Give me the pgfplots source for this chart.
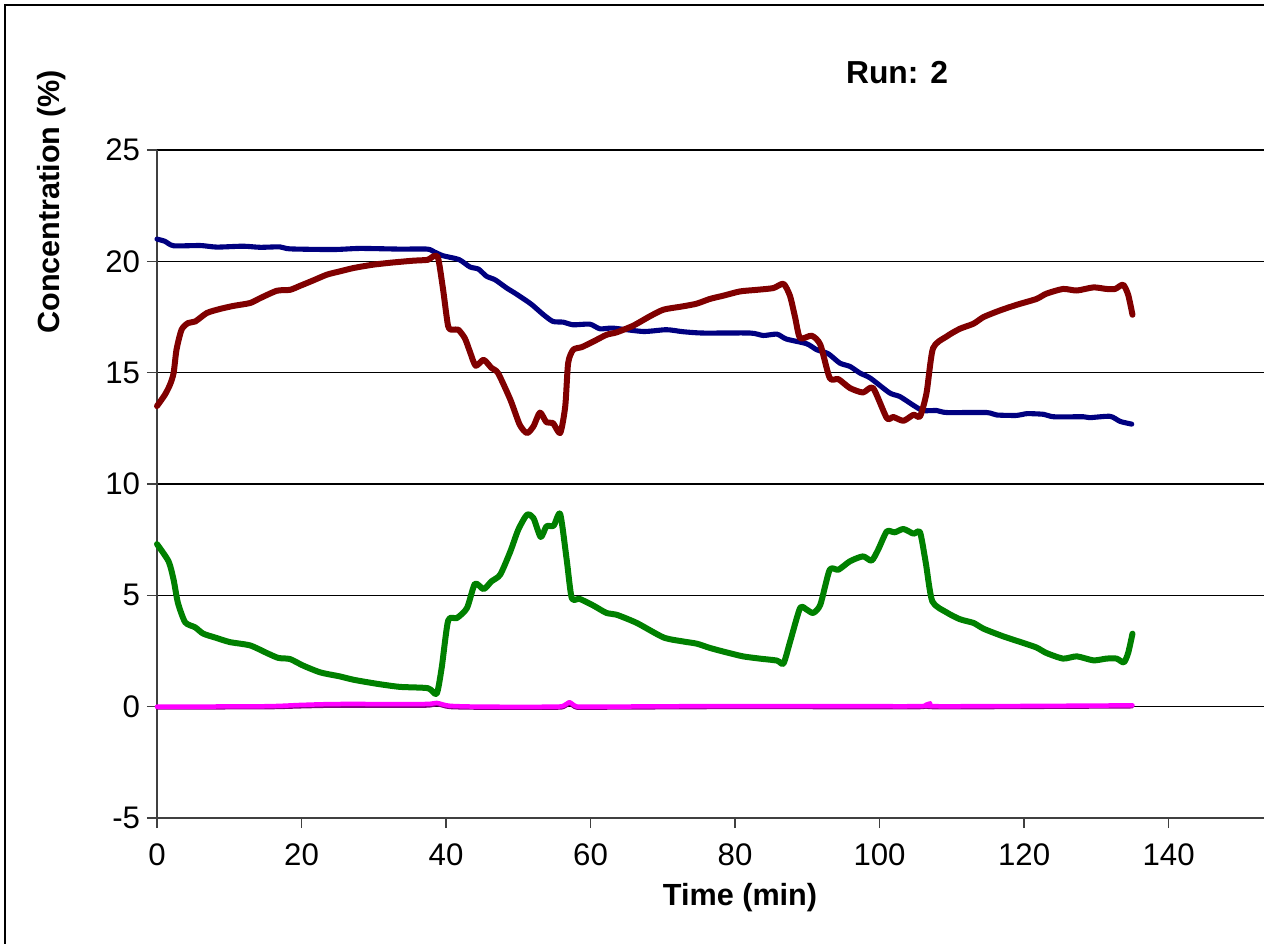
\documentclass[border=0pt]{standalone}
\usepackage{pgfplots}
\pgfplotsset{compat=1.18}
\usepackage{fontspec}
\setmainfont{Liberation Sans}
\definecolor{cRed}{HTML}{800000}
\definecolor{cBlue}{HTML}{000080}
\definecolor{cGreen}{HTML}{008000}
\definecolor{cMag}{HTML}{FF00FF}
\definecolor{cPurp}{HTML}{800080}
\definecolor{axgray}{HTML}{404040}

\begin{document}
\begin{tikzpicture}
\begin{axis}[
  at={(0,0)}, anchor=south west,
  scale only axis, width=369pt, height=222.67pt,
  xmin=0, xmax=153.2, ymin=-5, ymax=25,
  xtick={0,20,...,140}, ytick={-5,0,...,25},
  axis x line*=bottom, axis y line*=left,
  axis line style={draw=axgray, line width=0.7pt},
  ymajorgrids, major grid style={black, line width=0.4pt},
  tick align=outside, major tick length=3.33pt,
  tick style={draw=axgray, line width=0.5pt},
  ticklabel style={font=\fontsize{10.4}{12}\selectfont},
  yticklabel style={xshift=1.2pt},
  xticklabel style={yshift=-1.6pt},
  /pgf/number format/assume math mode=true,
  xlabel={Time (min)}, ylabel={Concentration (\%)},
  xlabel style={at={(axis description cs:0.5267,-0.1198)}, anchor=center, font=\bfseries\fontsize{10.2}{12}\selectfont},
  ylabel style={at={(axis description cs:-0.0949,0.9222)}, anchor=center, font=\bfseries\fontsize{10.2}{12}\selectfont},
  title={Run: 2},
  title style={at={(axis description cs:0.6685,1.0884)}, anchor=center, font=\bfseries\fontsize{10.6}{12}\selectfont},
  clip=false,
  every axis plot/.append style={smooth, tension=0.4, line join=round, line cap=round},
]
% purple (under magenta)
\addplot[cPurp, line width=1.2pt] coordinates {
(0,-0.05) (15,-0.04) (20,0.0) (25,0.03) (37,0.03) (38.7,0.1) (40.5,-0.03)
(45,-0.06) (55,-0.06) (56.3,-0.02) (57.1,0.12) (58,-0.05) (60,-0.06)
(80,-0.03) (100,-0.04) (106,-0.03) (107,0.08) (108,-0.04) (135,0.0)
};
% magenta
\addplot[cMag, line width=1.5pt] coordinates {
(0,0.0) (15,0.02) (20,0.08) (25,0.12) (37,0.12) (38.7,0.17) (40.5,0.04)
(45,0.0) (55,0.0) (56.3,0.05) (57.1,0.2) (58,0.02) (60,0.0)
(80,0.03) (100,0.02) (106,0.03) (107,0.15) (108,0.02) (135,0.06)
};
% green
\addplot[cGreen, line width=2pt] coordinates {
(0,7.3) (1.6,6.53) (2.3,5.7) (2.9,4.66) (3.9,3.79) (5.3,3.56) (6.4,3.28)
(8.3,3.08) (10.1,2.9) (12.9,2.75) (15.2,2.41) (16.8,2.19) (18.4,2.14)
(20.2,1.85) (22.6,1.54) (25.3,1.36) (27.2,1.21) (30.4,1.03) (33.6,0.89)
(37.5,0.83) (38.7,0.58) (39.4,1.75) (40.3,3.87) (41.5,3.98) (42.9,4.43)
(44.0,5.52) (45.2,5.28) (46.3,5.63) (47.5,5.93) (48.9,6.97) (50.0,7.95)
(51.2,8.62) (52.1,8.47) (53.1,7.62) (53.9,8.1) (54.9,8.13) (55.8,8.65)
(56.7,6.6) (57.4,4.88) (58.5,4.84) (60.4,4.54) (62.2,4.21) (63.6,4.13)
(66.4,3.76) (70.1,3.11) (72.8,2.93) (74.7,2.83) (76.5,2.64) (78.8,2.44)
(81.1,2.26) (83.4,2.16) (85.8,2.07) (86.7,1.94) (87.6,2.9) (89.0,4.43)
(89.9,4.36) (90.8,4.21) (91.8,4.58) (93.1,6.15) (94.3,6.15) (95.9,6.53)
(97.7,6.75) (98.9,6.56) (99.8,7.05) (101.0,7.87) (102.1,7.83) (103.3,7.98)
(104.7,7.77) (105.6,7.83) (106.4,6.45) (107.3,4.73) (109.3,4.23)
(111.1,3.93) (113.0,3.76) (114.4,3.5) (117.1,3.16) (119.9,2.86)
(121.7,2.66) (123.1,2.41) (125.4,2.16) (127.3,2.26) (129.6,2.08)
(131.4,2.16) (132.8,2.16) (133.8,1.99) (134.4,2.41) (135.0,3.28)
};
% navy
\addplot[cBlue, line width=1.7pt] coordinates {
(0,21.0) (1.1,20.9) (2.3,20.7) (6,20.71) (8.3,20.64) (11.9,20.68)
(14.3,20.63) (17,20.65) (18.4,20.56) (24.4,20.53) (28.1,20.58)
(33.6,20.55) (37.4,20.55) (38.4,20.42) (39.6,20.25) (41.8,20.08)
(43.3,19.75) (44.5,19.65) (45.6,19.33) (46.8,19.17) (48.4,18.8)
(49.5,18.58) (50.9,18.28) (51.9,18.05) (53.5,17.6) (54.8,17.3)
(56.2,17.27) (57.6,17.15) (59.9,17.18) (61.3,16.97) (63.1,17.0)
(67.3,16.85) (70.5,16.93) (72.8,16.84) (75.6,16.78) (82.1,16.78)
(83.9,16.67) (85.8,16.73) (87.1,16.51) (89.9,16.3) (91.3,16.03)
(92.9,15.85) (94.5,15.43) (95.9,15.28) (97.3,14.98) (98.7,14.76)
(101.4,14.09) (102.8,13.93) (104.7,13.53) (106.0,13.3) (107.9,13.3)
(109.3,13.21) (114.8,13.21) (116.2,13.1) (119.0,13.08) (120.4,13.16)
(122.7,13.13) (124.1,13.02) (128.2,13.02) (129.1,12.98) (131.9,13.04)
(133.3,12.81) (134.9,12.69)
};
% dark red
\addplot[cRed, line width=2pt] coordinates {
(0,13.5) (1.1,14.01) (1.8,14.46) (2.3,14.98) (2.7,16.03) (3.4,16.93)
(4.3,17.23) (5.3,17.3) (6.9,17.68) (8.7,17.86) (10.6,18.0) (12.9,18.13)
(14.3,18.35) (16.6,18.68) (18.4,18.72) (19.8,18.9) (21.6,19.14)
(23.5,19.4) (25.3,19.55) (27.2,19.7) (29.9,19.85) (32.7,19.95)
(35.5,20.03) (37.5,20.07) (38.2,20.22) (38.9,20.15) (39.6,18.72)
(40.3,17.08) (41.0,16.93) (41.7,16.93) (42.6,16.55) (43.3,15.95)
(44.1,15.31) (45.2,15.58) (46.3,15.21) (47.2,14.98) (48.9,13.79)
(50.2,12.66) (51.2,12.29) (52.1,12.59) (53.0,13.21) (53.9,12.77)
(54.8,12.74) (55.8,12.29) (56.5,13.49) (56.9,15.43) (57.6,16.03)
(58.8,16.15) (60.4,16.4) (62.2,16.7) (63.6,16.81) (65.9,17.11)
(68.2,17.53) (70.1,17.83) (72.8,17.98) (74.7,18.1) (76.5,18.31)
(78.4,18.46) (80.7,18.65) (83.0,18.72) (85.3,18.8) (86.7,18.99)
(87.6,18.45) (88.3,17.5) (89.0,16.55) (90.6,16.66) (91.8,16.26)
(93.1,14.76) (94.3,14.71) (95.9,14.31) (97.7,14.11) (99.1,14.31)
(101.0,12.96) (101.9,13.01) (103.3,12.84) (104.7,13.11) (105.6,13.04)
(106.5,14.09) (107.4,16.1) (109.3,16.63) (111.1,16.97) (113.0,17.2)
(114.4,17.5) (116.7,17.8) (119.0,18.05) (121.7,18.31) (123.1,18.55)
(125.4,18.76) (127.3,18.69) (129.6,18.83) (131.4,18.76) (132.6,18.76)
(133.7,18.95) (134.4,18.5) (135.0,17.6)
};
\end{axis}
\draw[black, line width=0.4pt] (-50.67pt,-42pt) -- (-50.67pt,271pt) -- (370pt,271pt);
\pgfresetboundingbox
\useasboundingbox (-52.33pt,-41.67pt) rectangle (369pt,272.67pt);
\end{tikzpicture}
\end{document}
